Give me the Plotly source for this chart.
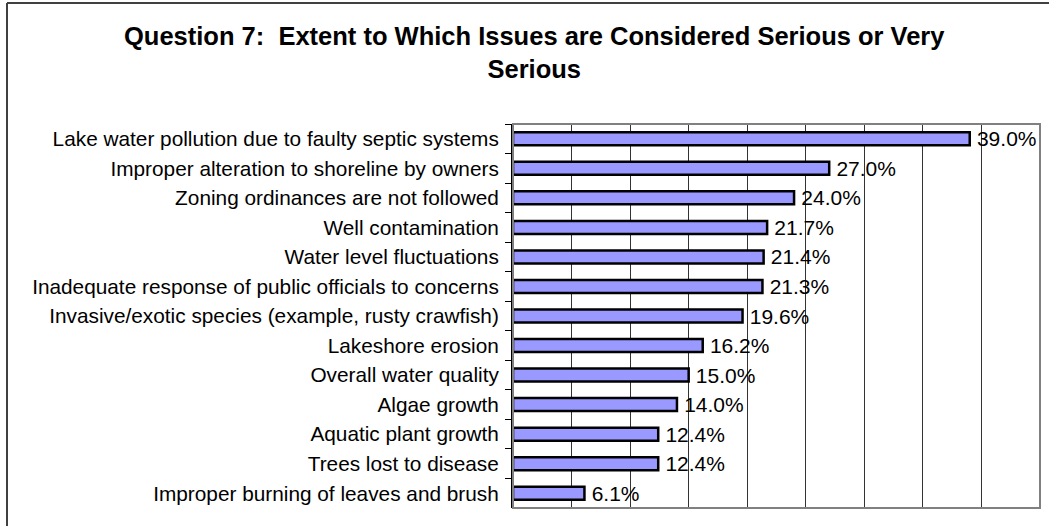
import plotly.graph_objects as go

categories = [
    "Lake water pollution due to faulty septic systems",
    "Improper alteration to shoreline by owners",
    "Zoning ordinances are not followed",
    "Well contamination",
    "Water level fluctuations",
    "Inadequate response of public officials to concerns",
    "Invasive/exotic species (example, rusty crawfish)",
    "Lakeshore erosion",
    "Overall water quality",
    "Algae growth",
    "Aquatic plant growth",
    "Trees lost to disease",
    "Improper burning of leaves and brush",
]
values = [39.0, 27.0, 24.0, 21.7, 21.4, 21.3, 19.6, 16.2, 15.0, 14.0, 12.4, 12.4, 6.1]
title_lines = ["Question 7:  Extent to Which Issues are Considered Serious or Very", "Serious"]

W, H = 1049, 526
L, R, T, B = 513, 1040, 124, 508
FONT = "Liberation Sans, Arial"

fig = go.Figure()
fig.add_trace(go.Bar(
    x=values,
    y=categories,
    orientation="h",
    marker=dict(color="#9999FF", line=dict(color="black", width=2.5)),
    text=["\u2009" + f"{v:.1f}%" for v in values],
    textposition="outside",
    constraintext="none",
    textfont=dict(family=FONT, size=21, color="black"),
    cliponaxis=False,
))

pw, ph = R - L, B - T
# plot area border (gray)
fig.add_shape(type="rect", xref="paper", yref="paper", x0=0, x1=1, y0=0, y1=1,
              line=dict(color="#808080", width=2), layer="above")
# outer chart frame (left and top visible)
fx = (7 - L) / pw
fy = (B - 3) / ph
fig.add_shape(type="line", xref="paper", yref="paper", x0=fx, x1=fx, y0=fy, y1=-0.2,
              line=dict(color="#404040", width=2))
fig.add_shape(type="line", xref="paper", yref="paper", x0=fx, x1=1.2, y0=fy, y1=fy,
              line=dict(color="#404040", width=2))

fig.add_annotation(
    text="<br>".join(title_lines), xref="paper", yref="paper",
    x=(534 - L) / pw, y=(B - 20) / ph, xanchor="center", yanchor="top",
    showarrow=False, align="center",
    font=dict(family=FONT, size=25.5, color="black", weight="bold"),
)

fig.update_layout(
    width=W, height=H,
    margin=dict(l=L, r=W - R, t=T, b=H - B, pad=0),
    paper_bgcolor="white", plot_bgcolor="white",
    showlegend=False,
    bargap=0.56,
    font=dict(family=FONT, size=20.8, color="black"),
)
fig.update_xaxes(range=[0, 45], dtick=5, showticklabels=False, showgrid=True,
                 gridcolor="#333333", gridwidth=1, zeroline=False, showline=False, ticks="")
fig.update_yaxes(autorange="reversed", type="category", showline=True, linecolor="black",
                 linewidth=2, ticks="outside", tickson="boundaries", ticklen=6,
                 tickcolor="black", tickwidth=1, ticklabelstandoff=8, showgrid=False,
                 tickfont=dict(family=FONT, size=20.8, color="black"))

fig.write_html("out.html", config={"displayModeBar": False},
               post_script="document.body.style.margin='0';document.body.style.overflow='hidden';")
